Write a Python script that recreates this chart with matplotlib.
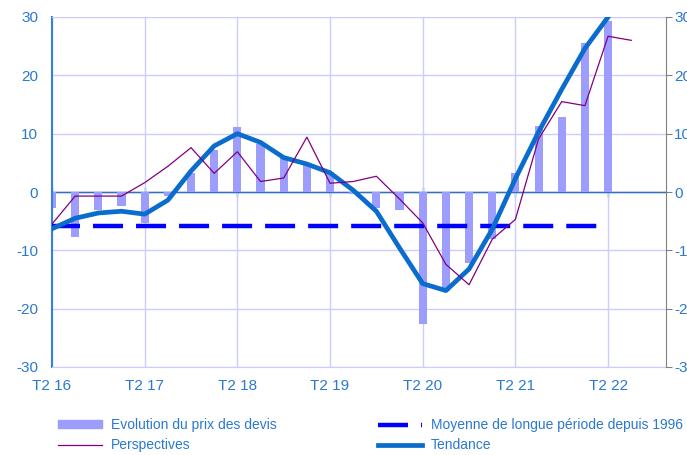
import numpy as np
import matplotlib.pyplot as plt
from matplotlib.lines import Line2D
from matplotlib.patches import Patch

plt.rcParams['font.family'] = ['Liberation Sans', 'DejaVu Sans']
plt.rcParams['axes.unicode_minus'] = False

# quarters, index 0 = T2 16
devis = [-2.8, -7.7, -3.1, -2.4, -5.3, -0.6, 3.2, 7.2, 11.1, 8.2, 5.8, 4.8, 3.4,
         -0.3, -2.8, -3.1, -22.7, -17.0, -12.1, -8.0, 3.2, 11.3, 12.9, 25.6, 29.3]
perspectives = [-5.5, -0.7, -0.7, -0.7, 1.6, 4.4, 7.6, 3.2, 6.9, 1.8, 2.4, 9.4, 1.5,
                1.8, 2.7, -1.2, -5.3, -12.4, -15.9, -8.1, -4.7, 9.1, 15.5, 14.8, 26.7, 26.0]
tendance = [-6.3, -4.5, -3.6, -3.3, -3.8, -1.4, 3.6, 7.9, 10.0, 8.5, 5.9, 4.8, 3.3,
            0.3, -3.3, -9.6, -15.7, -16.9, -13.2, -6.4, 2.3, 10.3, 17.6, 24.6, 30.0]
moyenne = -5.85
xticklabels = ['T2 16', 'T2 17', 'T2 18', 'T2 19', 'T2 20', 'T2 21', 'T2 22']

txt = '#2a78d2'
grid = '#ccccff'
dash = (0.45, (6.75, 2.93))

x_bar = np.arange(len(devis))
x_persp = np.arange(len(perspectives))
x_tend = np.arange(len(tendance))

fig = plt.figure(figsize=(6.87, 4.55), dpi=100)
ax = fig.add_axes([52/687, 1-367/455, (666-52)/687, 350/455])

ax.axhline(0, color='#2e72c4', lw=1, zorder=1.5)
ax.bar(x_bar, devis, width=0.35, color='#9d9dfd', zorder=2)
ax.plot([x_bar[0], x_bar[-1]], [moyenne, moyenne], color='#0000ff', lw=3.2,
        linestyle=dash, zorder=3)
ax.plot(x_tend, tendance, color='#0a6ccc', lw=3.4, zorder=4)
ax.plot(x_persp, perspectives, color='#800080', lw=0.9, zorder=5)

ax.set_xlim(0, 26.5)
ax.set_ylim(-30, 30)
ax.set_xticks(np.arange(0, 25, 4))
ax.set_xticklabels(xticklabels)
ax.set_yticks(np.arange(-30, 31, 10))
ax.grid(True, color=grid, lw=1, zorder=0)
ax.set_axisbelow(True)
ax.tick_params(axis='x', length=0, pad=9, labelcolor=txt, labelsize=11)
ax.tick_params(axis='y', length=0, pad=10, labelcolor=txt, labelsize=11)
for s in ['top', 'bottom']:
    ax.spines[s].set_color(grid)
ax.spines['left'].set_color('#3a80d8')
ax.spines['left'].set_linewidth(1.5)
ax.spines['right'].set_visible(False)

# small ticks on the zero line
zero = ax.secondary_xaxis(0.5)
zero.set_xticks(np.arange(0, 25, 4))
zero.set_xticklabels([])
zero.spines['bottom'].set_visible(False)
zero.tick_params(direction='inout', length=7, color='#2e72c4', width=1)

# right axis
ax2 = ax.twinx()
ax2.set_ylim(-30, 30)
ax2.set_yticks(np.arange(-30, 31, 10))
for s in ['top', 'bottom', 'left']:
    ax2.spines[s].set_visible(False)
ax2.spines['right'].set_color('#808080')
ax2.tick_params(axis='y', length=4, color='#808080', pad=2, labelcolor=txt, labelsize=11)

handles = [Patch(color='#9d9dfd'),
           Line2D([], [], color='#800080', lw=0.9),
           Line2D([], [], color='#0000ff', lw=3.2, linestyle=(0, (6.75, 2.93))),
           Line2D([], [], color='#0a6ccc', lw=3.4)]
labels = ['Evolution du prix des devis', 'Perspectives',
          'Moyenne de longue période depuis 1996', 'Tendance']
leg = fig.legend(handles, labels, ncol=2, loc='upper left',
                 bbox_to_anchor=(58/687, 1-418/455), frameon=False,
                 fontsize=10, handlelength=3.2, handleheight=0.5, handletextpad=0.6,
                 columnspacing=7.3, labelspacing=0.45, borderpad=0, borderaxespad=0)
for t in leg.get_texts():
    t.set_color(txt)

fig.savefig('out.png', dpi=100)
